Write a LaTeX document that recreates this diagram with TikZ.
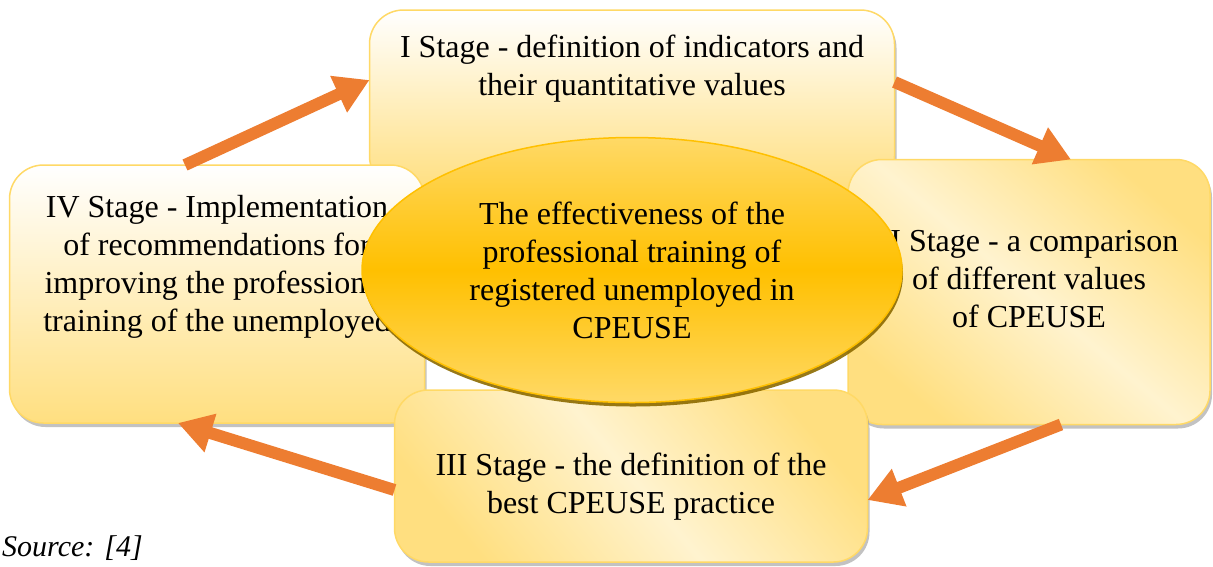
\documentclass[tikz,border=0pt]{standalone}
\usepackage{fontspec}
\setmainfont{Liberation Serif}
\usetikzlibrary{positioning,shadows,arrows.meta,shapes.geometric}

\definecolor{stageline}{HTML}{FFD966}
\definecolor{stagegold}{HTML}{FFDF80}
\definecolor{stagelight}{HTML}{FFF3CF}
\definecolor{coregold}{HTML}{FFC000}
\definecolor{corelight}{HTML}{FFD966}
\definecolor{coreshadow}{HTML}{8C6A00}
\definecolor{flowcol}{HTML}{ED7D31}

\begin{document}
\begin{tikzpicture}[x=1pt, y=-1pt,
    stagebox/.style={draw=stageline, line width=1.5pt, rounded corners=34pt,
        inner sep=0pt, outer sep=0pt,
        drop shadow={shadow xshift=2pt, shadow yshift=-4pt, fill=black!40, opacity=0.6}},
    stagetext/.style={align=center, inner sep=0pt, font=\fontsize{32}{38}\selectfont},
    flowarrow/.style={draw=flowcol, line width=12pt, -{Triangle[length=34pt,width=38pt]}}]
    \useasboundingbox (0,0) rectangle (1213,566);
    \clip (0,0) rectangle (1213,566);

    % Stage boxes
    \node[stagebox, minimum width=525pt, minimum height=180pt,
        top color=white, bottom color=stagegold] (I) at (632,100) {};
    \node[stagebox, minimum width=415pt, minimum height=258pt,
        top color=white, bottom color=stagegold] (IV) at (217,294) {};
    \node[stagebox, minimum width=362pt, minimum height=265pt,
        top color=stagegold, bottom color=stagegold, middle color=stagelight,
        shading angle=-40] (II) at (1029,292) {};
    \node[stagebox, minimum width=473pt, minimum height=172pt,
        top color=stagegold, bottom color=stagegold, middle color=stagelight,
        shading angle=-50] (III) at (631,476) {};

    % Stage texts
    \node[stagetext, below=25pt of I.north] (tI)
        {I Stage - definition of indicators and\\their quantitative values};
    \node[stagetext, below=71pt of II.north] (tII)
        {II Stage - a comparison\\of different values\\of CPEUSE};
    \node[stagetext, below=63pt of III.north] (tIII)
        {III Stage - the definition of the\\best CPEUSE practice};
    \node[stagetext, below=30pt of IV.north] (tIV)
        {IV Stage - Implementation\\of recommendations for\\improving the professional\\training of the unemployed};

    % Centre ellipse
    \node[ellipse, draw=coregold, line width=1.5pt, minimum width=540pt,
        minimum height=265pt, inner sep=0pt, align=center,
        font=\fontsize{32}{38}\selectfont,
        top color=corelight, bottom color=corelight, middle color=coregold,
        drop shadow={shadow xshift=1pt, shadow yshift=-4pt, fill=coreshadow, opacity=0.9}]
        (core) at (632,270)
        {The effectiveness of the\\professional training of\\registered unemployed in\\CPEUSE};

    % Cycle arrows
    \draw[flowarrow] ([xshift=-32pt]IV.north) -- ([yshift=20pt]I.west);
    \draw[flowarrow] ([yshift=18pt]I.east) -- ([xshift=42pt]II.north);
    \draw[flowarrow] ([xshift=32pt]II.south) -- ([yshift=-24pt]III.east);
    \draw[flowarrow] ([yshift=-14pt]III.west) -- ([xshift=-39pt]IV.south);

    % Source
    \node[anchor=base west, inner sep=0pt, font=\fontsize{30}{36}\selectfont\itshape]
        (src) at (2,556) {Source: [4]};
\end{tikzpicture}
\end{document}
